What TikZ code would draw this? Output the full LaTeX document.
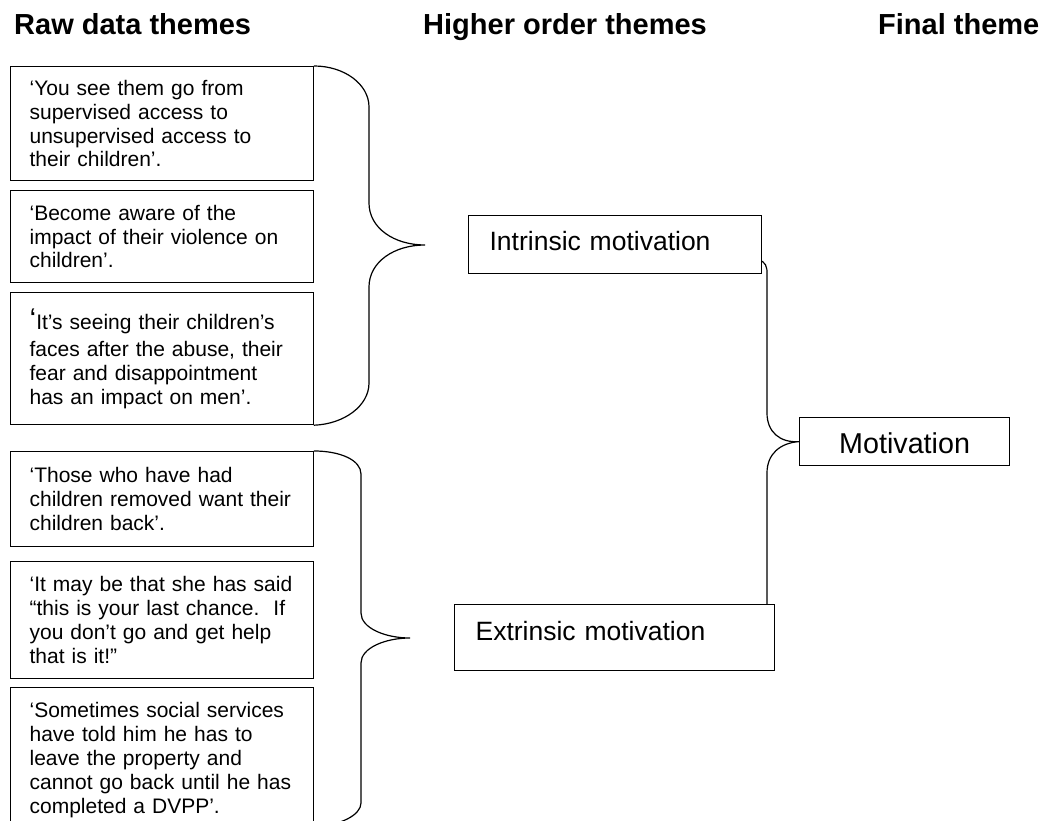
\documentclass[tikz,border=0pt]{standalone}
\usepackage{fontspec}
\setmainfont{Liberation Sans}
\usetikzlibrary{calc}
\def\lineThickness{1.2pt}
\def\qFont{\fontsize{21pt}{23.8pt}\selectfont}
\def\tFont{\fontsize{26.5pt}{30pt}\selectfont}
\def\fFont{\fontsize{28.7pt}{32pt}\selectfont}
\def\hFont{\fontsize{29pt}{34pt}\selectfont\bfseries}
\tikzset{qbox/.style={draw=black,line width=\lineThickness,anchor=north west,text width=265pt,inner xsep=19pt,inner ysep=0pt,align=left,font=\qFont}}
\tikzset{theme/.style={draw=black,line width=\lineThickness,anchor=north west,inner xsep=21pt,inner ysep=0pt,align=left,font=\tFont}}
\tikzset{finbox/.style={draw=black,line width=\lineThickness,anchor=north west,minimum width=210pt,inner sep=0pt,text height=36pt,text depth=12pt,font=\fFont}}
\tikzset{hdr/.style={anchor=base west,inner sep=0pt,font=\hFont}}
\tikzset{brace/.style={black,line width=\lineThickness,line cap=round}}

\begin{document}
\begin{tikzpicture}[x=1pt,y=-1pt]
\useasboundingbox (0,0) rectangle (1042,821);\clip (0,0) rectangle (1042,821);
% column headings
\node[hdr] (hraw) at (14,35) {Raw data themes};\node[hdr] (hhigh) at (423,35) {Higher order themes};\node[hdr] (hfin) at (878,35) {Final theme};
% raw data quotes
\node[qbox,minimum height=114pt] (q1) at (10,66) {‘You see them go from\\supervised access to\\unsupervised access to\\their children’.};
\node[qbox,minimum height=92pt] (q2) at (10,190) {‘Become aware of the\\impact of their violence on\\children’.};
\node[qbox,minimum height=132pt] (q3) at (10,292) {{\fontsize{30pt}{30pt}\selectfont ‘}It’s seeing their children’s\\[4pt]faces after the abuse, their\\fear and disappointment\\has an impact on men’.};
\node[qbox,minimum height=95pt] (q4) at (10,451) {‘Those who have had\\children removed want their\\children back’.};
\node[qbox,minimum height=117pt] (q5) at (10,561) {‘It may be that she has said\\“this is your last chance.\ \ If\\you don’t go and get help\\that is it!”};
\node[qbox,minimum height=145pt] (q6) at (10,687) {‘Sometimes social services\\have told him he has to\\leave the property and\\cannot go back until he has\\completed a DVPP’.};
% higher order and final themes
\node[theme,text width=251pt,text height=35pt,text depth=23pt] (intr) at (468,215) {Intrinsic motivation};
\node[theme,text width=278pt,text height=36pt,text depth=30pt] (extr) at (454,604) {Extrinsic motivation};
\node[finbox] (mot) at (799,417) {Motivation};
\coordinate (tipA) at (425,245);\coordinate (tipB) at (410,638);
% braces
\draw[brace] (q1.north east) .. controls (344,66) and (369,84) .. (369,107) -- (369,203) .. controls (369,228) and (394,245) .. (tipA) .. controls (394,245) and (369,262) .. (369,287) -- (369,383) .. controls (369,406) and (344,424) .. (q3.south east);
\draw[brace] (q4.north east) .. controls (340,451) and (361,460) .. (361,474) -- (361,613) .. controls (361,628) and (385,638) .. (tipB) .. controls (385,638) and (361,648) .. (361,663) -- (361,803) .. controls (361,815) and (340,826) .. (q6.east |- 0,826);
\draw[brace] ([yshift=13pt]intr.south east) .. controls +(6,4) and +(0,-10) .. (767,282) -- (767,413) .. controls (767,432) and (780,443) .. (mot.west) .. controls (780,443) and (767,454) .. (767,473) -- (767,0 |- extr.north);
\end{tikzpicture}
\end{document}
